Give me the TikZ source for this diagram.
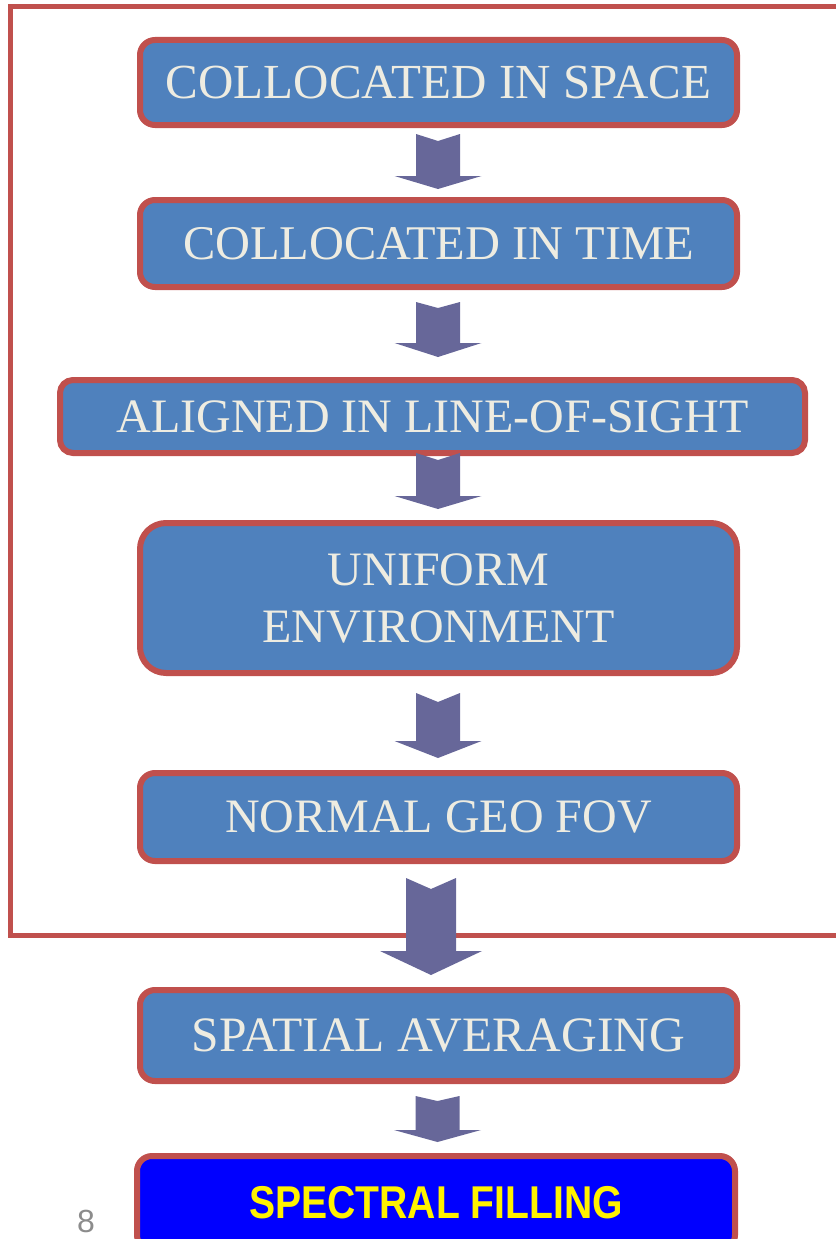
\documentclass[tikz,border=0pt]{standalone}
\usepackage{fontspec}
\usepackage{graphicx}
\setmainfont{Liberation Serif}
\newfontfamily\boldsans{Liberation Sans}[BoldFont={Liberation Sans Bold}]
\definecolor{boxfill}{HTML}{4F81BD}
\definecolor{boxline}{HTML}{C0504D}
\definecolor{arrowc}{HTML}{676799}
\definecolor{boxtext}{HTML}{EEECE1}
\definecolor{pagenum}{HTML}{8C8C8C}
\newcommand\blockarr[7]{%
  \fill[arrowc] ({#1-#6},#2) -- (#1,#3) -- ({#1+#6},#2) -- ({#1+#6},#4)
    -- ({#1+#7},#4) -- (#1,#5) -- ({#1-#7},#4) -- ({#1-#6},#4) -- cycle;}
\tikzset{
  stepbox/.style={draw=boxline, line width=6pt, fill=boxfill, text=boxtext,
    rounded corners=15pt, inner sep=0pt, align=center,
    font=\fontsize{48}{57}\selectfont},
  frameline/.style={draw=boxline, line width=5pt}
}
\begin{document}
\begin{tikzpicture}[x=1pt,y=-1pt]
\useasboundingbox (0,0) rectangle (835,1239);
% outer frame (open to the right, beyond the page)
\draw[frameline] (845,7) -- (10,7) -- (10,935) -- (845,935);
% boxes
\node[stepbox, minimum width=597pt, minimum height=85pt, font=\fontsize{49}{57}\selectfont] (b1) at (438.5,82.5) {COLLOCATED IN SPACE};
\node[stepbox, minimum width=597pt, minimum height=87pt, font=\fontsize{48.4}{57}\selectfont] (b2) at (438.5,243.5) {COLLOCATED IN TIME};
\node[stepbox, minimum width=745pt, minimum height=73pt, rounded corners=13pt] (b3) at (432.5,416.5) {ALIGNED IN LINE-OF-SIGHT};
\node[stepbox, minimum width=597pt, minimum height=150pt, rounded corners=26pt] (b4) at (438.5,598) {UNIFORM\\ENVIRONMENT};
\node[stepbox, minimum width=597pt, minimum height=88pt] (b5) at (438.5,817) {NORMAL GEO FOV};
\node[stepbox, minimum width=597pt, minimum height=91pt, font=\fontsize{49.5}{57}\selectfont] (b6) at (438.5,1035.5) {SPATIAL AVERAGING};
\node[stepbox, fill=blue, text=yellow, minimum width=598pt, minimum height=94pt] (b7) at (436,1203)
  {\scalebox{0.85}[1]{\boldsans\bfseries\fontsize{46}{50}\selectfont SPECTRAL FILLING}};
% block arrows: cx, top, notch, headstart, tip, half shaft, half head
\blockarr{438}{134}{141}{176}{189}{22}{43.5}
\blockarr{438}{302}{308}{343}{357}{22}{43.5}
\blockarr{438}{453}{460}{496}{509}{22}{43.5}
\blockarr{438}{693}{702}{741}{758}{22}{43.5}
\blockarr{431}{878}{889}{951}{975}{25}{51}
\blockarr{437.5}{1096}{1101}{1130}{1142}{22}{43.5}
% page number
\node[text=pagenum, font=\fontspec{Liberation Sans}\fontsize{32}{36}\selectfont, inner sep=0pt] (pg) at (86,1221.5) {8};
\end{tikzpicture}
\end{document}
